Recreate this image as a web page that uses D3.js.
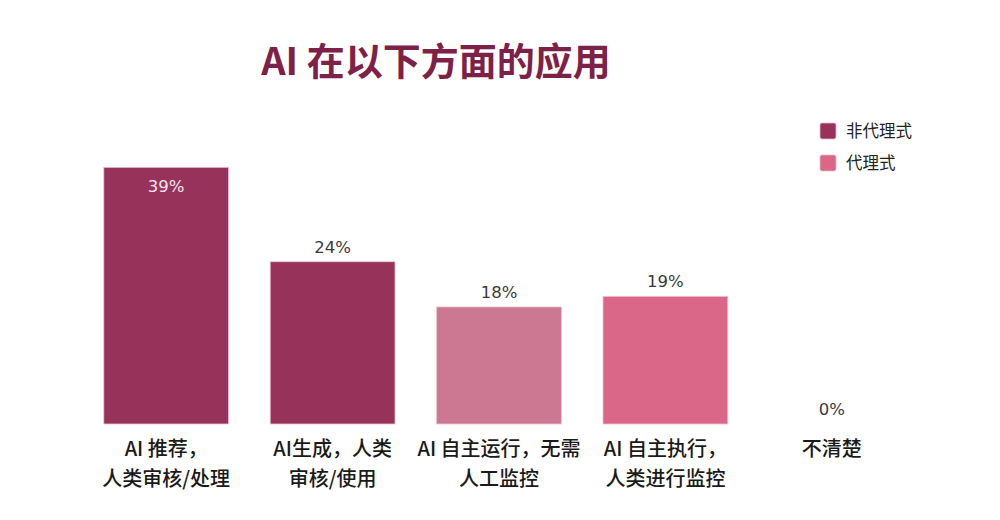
<!DOCTYPE html>
<html>
<head>
<meta charset="utf-8">
<script src="https://cdn.jsdelivr.net/npm/d3@7"></script>
<style>
  body { margin: 0; background: #fff; }
  svg { display: block; font-family: "Noto Sans CJK SC", "Noto Sans", sans-serif; }
</style>
</head>
<body>
<div id="chart"></div>
<script>
// data
const categories = [
  ["AI 推荐，", "人类审核/处理"],
  ["AI生成，人类", "审核/使用"],
  ["AI 自主运行，无需", "人工监控"],
  ["AI 自主执行，", "人类进行监控"],
  ["不清楚"]
];
const values = [38.6, 24.4, 17.6, 19.2, 0];
const groups = ["非代理式", "非代理式", "代理式 (自主)", "代理式", "其他"];
const legendItems = ["非代理式", "代理式"];

var width = 1000,
  height = 520;

var colorOf = {
  "非代理式": "#97325a",
  "代理式 (自主)": "#cc7893",
  "代理式": "#db6788",
  "其他": "#db6788"
};

var svg = d3.select("#chart")
  .append("svg")
  .attr("width", width)
  .attr("height", height);

// title
svg.append("text")
  .attr("x", 436)
  .attr("y", 75)
  .attr("text-anchor", "middle")
  .attr("font-size", 38)
  .attr("font-weight", "bold")
  .attr("fill", "#7e2148")
  .text("AI 在以下方面的应用");

// scales
const x = d3.scaleBand()
  .domain(d3.range(categories.length))
  .range([83, 915])
  .paddingInner(0.25)
  .paddingOuter(0.125);

const y = d3.scaleLinear()
  .domain([0, 40])
  .range([424, 158]);

// bars
svg.selectAll(".bar")
  .data(values)
  .enter()
  .append("rect")
  .attr("class", "bar")
  .attr("x", (d, i) => x(i))
  .attr("y", d => y(d))
  .attr("width", x.bandwidth())
  .attr("height", d => y(0) - y(d))
  .attr("fill", (d, i) => colorOf[groups[i]])
  .attr("stroke", "#f0c4cf")
  .attr("stroke-width", d => d > 0 ? 0.8 : 0);

// value labels (first bar has label inside)
svg.selectAll(".val")
  .data(values)
  .enter()
  .append("text")
  .attr("class", "val")
  .attr("x", (d, i) => x(i) + x.bandwidth() / 2)
  .attr("y", (d, i) => i === 0 ? y(d) + 25 : y(d) - 9)
  .attr("text-anchor", "middle")
  .attr("font-family", "'DejaVu Sans', sans-serif")
  .attr("font-size", 16.5)
  .attr("fill", (d, i) => i === 0 ? "#f4e4ea" : "#3a3a3a")
  .text(d => Math.round(d) + "%");

// category labels
const cat = svg.selectAll(".cat")
  .data(categories)
  .enter()
  .append("text")
  .attr("class", "cat")
  .attr("text-anchor", "middle")
  .attr("font-size", 20)
  .attr("font-weight", 500)
  .attr("fill", "#1a1a1a");

cat.selectAll("tspan")
  .data((d, i) => d.map(t => ({ t, i })))
  .enter()
  .append("tspan")
  .attr("x", d => x(d.i) + x.bandwidth() / 2)
  .attr("y", (d, j) => 456 + j * 30)
  .text(d => d.t);

// legend
const legend = svg.append("g")
  .selectAll("g")
  .data(legendItems)
  .enter().append("g")
  .attr("transform", (d, i) => `translate(820,${123 + i * 32})`);

legend.append("rect")
  .attr("width", 16)
  .attr("height", 16)
  .attr("rx", 2)
  .attr("fill", d => colorOf[d])
  .attr("stroke", "#e8b8c4")
  .attr("stroke-width", 0.8);

legend.append("text")
  .attr("x", 26)
  .attr("y", 8)
  .attr("dy", "0.35em")
  .attr("font-size", 16.5)
  .attr("fill", "#222")
  .text(d => d);
</script>
</body>
</html>
